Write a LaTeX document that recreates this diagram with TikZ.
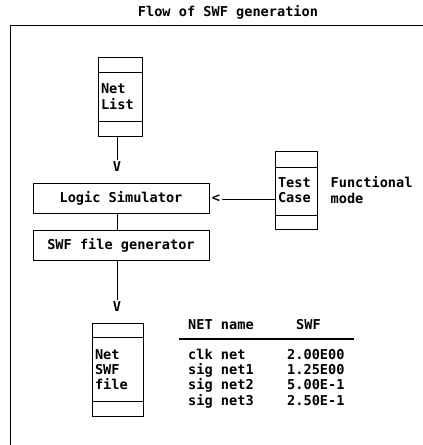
\documentclass[tikz,border=0pt]{standalone}
\usepackage{fontspec}
\usetikzlibrary{positioning}
\newfontfamily\swfmono{DejaVu Sans Mono}
\newcommand{\swffont}{\swfmono\bfseries\fontsize{13.6}{15.3}\selectfont}
\tikzset{
  txt/.style={font=\swffont, inner sep=0pt},
  tip/.style={font=\swffont, inner sep=2pt},
  procbox/.style={draw, line width=0.9pt, font=\swffont, minimum width=176pt, minimum height=30pt},
  filebox/.style={draw, line width=0.9pt, font=\swffont, align=left, inner xsep=3pt, inner ysep=0pt},
  wire/.style={line width=0.9pt}
}
\begin{document}
\begin{tikzpicture}[x=1pt, y=-1pt]
  \useasboundingbox (0,0) rectangle (423,445);
  \fill[white] (0,0) rectangle (423,445);

  % title and frame
  \node[txt, anchor=base] (title) at (228,16) {Flow of SWF generation};
  \draw[line width=1pt] (10,445) -- (10,25) -- (423,25);

  % input netlist
  \node[filebox, text width=38pt, minimum height=79pt] (netlist) at (120,96.5) {Net\\List};
  \draw[wire] ([yshift=-16pt]netlist.north west) -- ([yshift=-16pt]netlist.north east);
  \draw[wire] ([yshift=15pt]netlist.south west) -- ([yshift=15pt]netlist.south east);
  \node[tip] (vsim) at (117,167) {V};
  \draw[wire] (vsim.north |- netlist.south) -- (vsim.north);

  % simulator chain
  \node[procbox] (logic) at (121,198) {Logic Simulator};
  \node[procbox] (swfgen) at (121,245) {SWF file generator};
  \draw[wire] (vsim.north |- logic.south) -- (vsim.north |- swfgen.north);
  \node[tip] (vout) at (117,307) {V};
  \draw[wire] (vout.north |- swfgen.south) -- (vout.north);

  % stimulus
  \node[filebox, text width=36pt, minimum height=78pt] (testcase) at (296,190) {Test\\Case};
  \draw[wire] ([yshift=-17pt]testcase.north west) -- ([yshift=-17pt]testcase.north east);
  \draw[wire] ([yshift=14pt]testcase.south west) -- ([yshift=14pt]testcase.south east);
  \node[txt, align=left, anchor=west, right=13pt of testcase] (mode) {Functional\\mode};
  \node[tip] (lt) at (216,199) {<};
  \draw[wire] (lt.east) -- (lt.east -| testcase.west);

  % output file
  \node[filebox, text width=45pt, minimum height=93pt] (swffile) at (117.5,369.5) {Net\\SWF\\file};
  \draw[wire] ([yshift=-15pt]swffile.north west) -- ([yshift=-15pt]swffile.north east);
  \draw[wire] ([yshift=15pt]swffile.south west) -- ([yshift=15pt]swffile.south east);

  % swf table
  \node[txt, anchor=base west] (hdname) at (188,329) {NET name};
  \node[txt, anchor=base west] (hdswf) at (296,329) {SWF};
  \coordinate (rulel) at (179,339);
  \coordinate (ruler) at (354,339);
  \draw[line width=1.2pt] (rulel) -- (ruler);
  \foreach \n/\v [count=\i] in {clk net/2.00E00, sig net1/1.25E00, sig net2/5.00E-1, sig net3/2.50E-1}
  {
    \node[txt, anchor=base west] (net\i) at (188,344+15.3*\i) {\n};
    \node[txt, anchor=base west] (val\i) at (287,344+15.3*\i) {\v};
  }
\end{tikzpicture}
\end{document}
